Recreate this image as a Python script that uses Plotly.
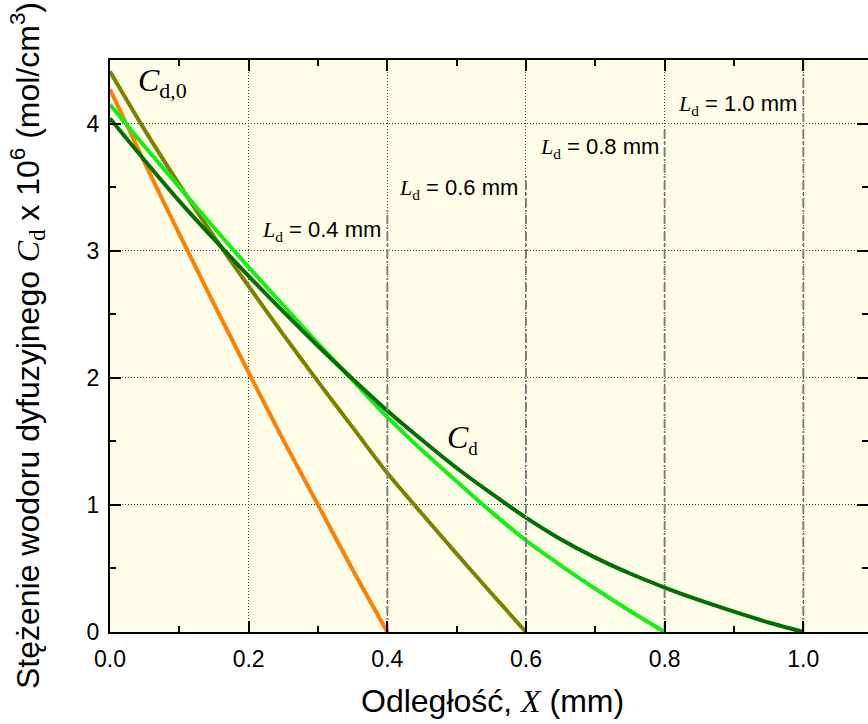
import plotly.graph_objects as go

# ---------------- data ----------------
x_04 = [0.0, 0.05, 0.10, 0.15, 0.20, 0.25, 0.30, 0.35, 0.40]
c_04 = [4.27, 3.69, 3.13, 2.58, 2.04, 1.51, 1.00, 0.49, 0.0]

x_06 = [0.0, 0.05, 0.10, 0.15, 0.20, 0.25, 0.30, 0.35, 0.40, 0.45, 0.50, 0.55, 0.60]
c_06 = [4.41, 3.95, 3.52, 3.11, 2.72, 2.34, 1.97, 1.61, 1.25, 0.93, 0.615, 0.305, 0.0]

x_08 = [0.0, 0.05, 0.10, 0.15, 0.20, 0.25, 0.30, 0.35, 0.40, 0.45, 0.50, 0.55, 0.60,
        0.65, 0.70, 0.75, 0.80]
c_08 = [4.15, 3.82, 3.50, 3.18, 2.87, 2.57, 2.27, 1.98, 1.69, 1.43, 1.185, 0.945, 0.72,
        0.525, 0.34, 0.165, 0.0]

x_10 = [0.0, 0.05, 0.10, 0.15, 0.20, 0.25, 0.30, 0.35, 0.40, 0.45, 0.50, 0.55, 0.60,
        0.65, 0.70, 0.75, 0.80, 0.85, 0.90, 0.95, 1.00]
c_10 = [4.04, 3.71, 3.39, 3.09, 2.80, 2.52, 2.25, 1.99, 1.74, 1.51, 1.29, 1.09, 0.90,
        0.73, 0.585, 0.46, 0.35, 0.25, 0.16, 0.075, 0.0]

ld_values = [0.4, 0.6, 0.8, 1.0]
ld_line_tops = [3.32, 3.61, 3.95, 4.5]
ld_labels = ["0.4 mm", "0.6 mm", "0.8 mm", "1.0 mm"]

x_ticks = [0.0, 0.2, 0.4, 0.6, 0.8, 1.0]
x_ticktext = ["0.0", "0.2", "0.4", "0.6", "0.8", "1.0"]
y_ticks = [0, 1, 2, 3, 4]
y_ticktext = ["0", "1", "2", "3", "4"]

# ---------------- styles ----------------
SANS = "Liberation Sans, Arial, sans-serif"
SERIF = "Liberation Serif"
BG = "#FEFDE8"
GRID = "#444444"

fig = go.Figure()

# reference dash-dot lines (on overlay axis y2, same range)
vx, vy = [], []
for xv, top in zip(ld_values, ld_line_tops):
    vx += [xv, xv, None]
    vy += [0, top, None]
fig.add_trace(go.Scatter(x=vx, y=vy, mode="lines", yaxis="y2",
                         line=dict(color="#808080", width=2, dash="9px,3px,2px,3px"),
                         showlegend=False, hoverinfo="skip"))

series = [
    (x_04, c_04, "#FF8000"),
    (x_06, c_06, "#808000"),
    (x_08, c_08, "#14F014"),
    (x_10, c_10, "#007000"),
]
for xs, ys, col in series:
    fig.add_trace(go.Scatter(x=xs, y=ys, mode="lines",
                             line=dict(color=col, width=4, shape="spline", smoothing=0.8),
                             showlegend=False))

annotations = []
# Ld labels
label_pos = [(0.394, 3.18), (0.591, 3.51), (0.795, 3.835), (0.994, 4.166)]
for (ax, ay), lab in zip(label_pos, ld_labels):
    annotations.append(dict(
        x=ax, y=ay, xref="x", yref="y", xanchor="right", yanchor="middle",
        showarrow=False, yshift=-3,
        text=(f'<span style="font-family:{SERIF}"><i>L</i></span>'
              f'<sub><span style="font-family:{SERIF}">d</span></sub> = {lab}'),
        font=dict(family=SANS, size=22, color="black")))

# C_d,0 and C_d
annotations.append(dict(
    x=0.038, y=4.32, xref="x", yref="y", xanchor="left", yanchor="middle", showarrow=False,
    text='<i>C</i><sub><span style="font-size:22px">d,0</span></sub>',
    font=dict(family=SERIF, size=32, color="black")))
annotations.append(dict(
    x=0.483, y=1.52, xref="x", yref="y", xanchor="left", yanchor="middle", showarrow=False,
    text='<i>C</i><sub><span style="font-size:19px">d</span></sub>',
    font=dict(family=SERIF, size=32, color="black")))

# axis titles
annotations.append(dict(
    x=0.504, y=-0.1215, xref="paper", yref="paper", xanchor="center", yanchor="middle",
    showarrow=False,
    text=f'Odległość, <span style="font-family:{SERIF}"><i>X</i></span> (mm)',
    font=dict(family=SANS, size=32, color="black")))
annotations.append(dict(
    x=-0.1094, y=0.5, xref="paper", yref="paper", xanchor="center", yanchor="middle",
    showarrow=False, textangle=-90,
    text=(f'Stężenie wodoru dyfuzyjnego <span style="font-family:{SERIF}"><i>C</i></span>'
          f'<sub><span style="font-family:{SERIF}">d</span></sub> x 10<sup>6</sup> (mol/cm<sup>3</sup>)'),
    font=dict(family=SANS, size=32, color="black")))

axis_common = dict(
    ticks="inside", ticklen=11, tickwidth=2, tickcolor="black",
    zeroline=False,
    tickfont=dict(family=SANS, size=23, color="black"),
)

fig.update_layout(
    width=868, height=724,
    margin=dict(l=110, r=0, t=60, b=92, pad=0),
    paper_bgcolor="white", plot_bgcolor=BG,
    annotations=annotations,
    xaxis=dict(
        range=[0, 1.0933], tickvals=x_ticks, ticktext=x_ticktext,
        showline=True, linecolor="black", linewidth=2, mirror="ticks",
        showgrid=True, gridcolor=GRID, gridwidth=1, griddash="1px,2px",
        ticklabelstandoff=5,
        minor=dict(dtick=0.1, tick0=0, ticks="inside", ticklen=6, tickwidth=2,
                   tickcolor="black", showgrid=False),
        **axis_common),
    yaxis=dict(
        range=[0, 4.5], tickvals=y_ticks, ticktext=y_ticktext,
        showline=True, linecolor="black", linewidth=2, mirror=False,
        showgrid=True, gridcolor=GRID, gridwidth=1, griddash="1px,2px",
        ticklabelstandoff=4,
        minor=dict(dtick=0.5, tick0=0, ticks="inside", ticklen=6, tickwidth=2,
                   tickcolor="black", showgrid=False),
        **axis_common),
    yaxis2=dict(
        range=[0, 4.5], overlaying="y", side="right", anchor="x",
        tickvals=y_ticks, showticklabels=False, showgrid=False, showline=False,
        ticks="inside", ticklen=11, tickwidth=2, tickcolor="black", zeroline=False,
        minor=dict(dtick=0.5, tick0=0, ticks="inside", ticklen=6, tickwidth=2,
                   tickcolor="black", showgrid=False)),
)

fig.write_html("out.html")
